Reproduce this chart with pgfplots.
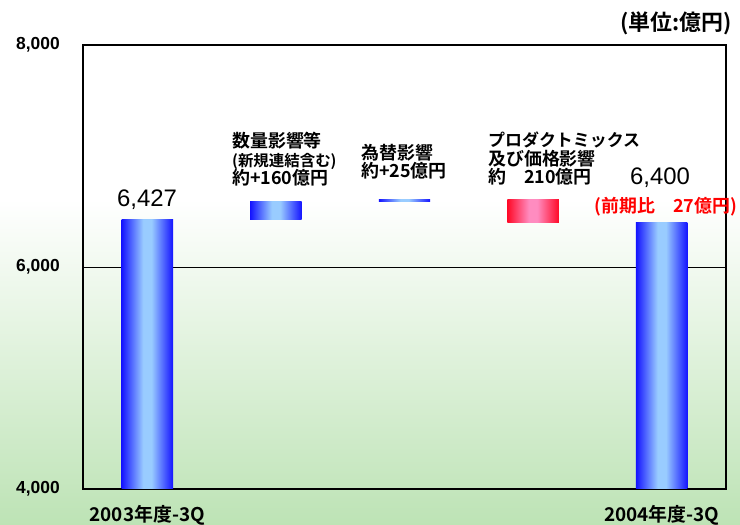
\documentclass[border=0pt]{standalone}
\usepackage{pgfplots}
\pgfplotsset{compat=1.18}
\usepackage{fontspec}
\setmainfont{Liberation Sans}
\newfontfamily\jp{Noto Sans CJK JP}[BoldFont={Noto Sans CJK JP Bold}]
\newfontfamily\lib{Liberation Sans}
\definecolor{bggreen}{HTML}{BDE3B5}
\definecolor{bdark}{HTML}{1414FF}
\definecolor{blight}{HTML}{99CCFF}
\definecolor{rdark}{HTML}{FF0A28}
\definecolor{rlight}{HTML}{FF8CC0}
\pgfdeclareverticalshading{bgshade}{100bp}{color(0bp)=(bggreen); color(25bp)=(bggreen); color(56bp)=(white); color(100bp)=(white)}
\pgfdeclarehorizontalshading{barblue}{100bp}{color(0bp)=(bdark); color(25bp)=(bdark); color(46bp)=(blight); color(54bp)=(blight); color(75bp)=(bdark); color(100bp)=(bdark)}
\pgfdeclarehorizontalshading{barred}{100bp}{color(0bp)=(rdark); color(25bp)=(rdark); color(46bp)=(rlight); color(54bp)=(rlight); color(75bp)=(rdark); color(100bp)=(rdark)}
\begin{document}
\begin{tikzpicture}[x=1bp,y=1bp]
\path[use as bounding box, shade, shading=bgshade] (0,0) rectangle (740,525);
\begin{axis}[
  at={(83bp,36bp)}, anchor=south west,
  scale only axis, width=643bp, height=444bp,
  xmin=-0.5, xmax=4.5, ymin=4000, ymax=8000,
  axis line style={line width=1.3bp},
  ytick={4000,6000,8000},
  xtick={0,4}, xticklabels={2003年度-3Q,2004年度-3Q},
  major tick length=0pt,
  ymajorgrids, grid style={black, line width=0.9bp},
  /pgf/number format/assume math mode=true,
  /pgf/number format/1000 sep={,},
  yticklabel style={font=\lib\bfseries\fontsize{17.5}{20}\selectfont, anchor=east, inner sep=0pt, xshift=-23bp},
  xticklabel style={font=\jp\bfseries\fontsize{19}{20}\selectfont, anchor=north, inner sep=0pt, yshift=-16bp},
]
% 2003 3Q total
\addplot[draw=none, shade, shading=barblue] coordinates {(-0.2,0) (0.2,0) (0.2,6427) (-0.2,6427)} -- cycle;
% volume effect +160
\addplot[draw=none, shade, shading=barblue] coordinates {(0.8,6427) (1.2,6427) (1.2,6587) (0.8,6587)} -- cycle;
% FX effect +25
\addplot[draw=none, shade, shading=barblue] coordinates {(1.8,6587) (2.2,6587) (2.2,6612) (1.8,6612)} -- cycle;
% product mix / price -210
\addplot[draw=none, shade, shading=barred] coordinates {(2.8,6612) (3.2,6612) (3.2,6400) (2.8,6400)} -- cycle;
% 2004 3Q total
\addplot[draw=none, shade, shading=barblue] coordinates {(3.8,0) (4.2,0) (4.2,6400) (3.8,6400)} -- cycle;
\end{axis}
\node[font=\lib\fontsize{24}{26}\selectfont, inner sep=0pt] at (147,325) {6,427};
\node[font=\lib\fontsize{24}{26}\selectfont, inner sep=0pt] at (660,347) {6,400};
\node[font=\jp\bfseries\fontsize{18}{20}\selectfont, text=red, inner sep=0pt] at (666,318) {(前期比　27億円)};
\node[font=\jp\bfseries\fontsize{18}{18.5}\selectfont, anchor=north west, inner sep=0pt, align=left] at (232,393) {数量影響等\\{\fontsize{15.5}{18.5}\selectfont (新規連結含む)}\\約+160億円};
\node[font=\jp\bfseries\fontsize{18}{18.5}\selectfont, anchor=north west, inner sep=0pt, align=left] at (361,381) {為替影響\\約+25億円};
\node[font=\jp\bfseries\fontsize{17}{18.5}\selectfont, anchor=north west, inner sep=0pt, align=left] at (488,393) {プロダクトミックス\\{\fontsize{18}{18.5}\selectfont 及び価格影響}\\{\fontsize{18}{18.5}\selectfont 約　210億円}};
\node[font=\jp\bfseries\fontsize{22}{24}\selectfont, inner sep=0pt] at (676,502) {(単位:億円)};
\end{tikzpicture}
\end{document}
